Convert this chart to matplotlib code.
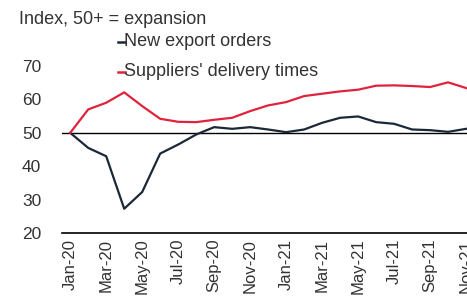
import matplotlib
matplotlib.use("Agg")
import matplotlib.pyplot as plt

plt.rcParams['font.family'] = ['Liberation Sans', 'DejaVu Sans']

months = ['Jan-20', 'Feb-20', 'Mar-20', 'Apr-20', 'May-20', 'Jun-20', 'Jul-20', 'Aug-20',
          'Sep-20', 'Oct-20', 'Nov-20', 'Dec-20', 'Jan-21', 'Feb-21', 'Mar-21', 'Apr-21',
          'May-21', 'Jun-21', 'Jul-21', 'Aug-21', 'Sep-21', 'Oct-21', 'Nov-21']

# Index values
export_orders = [50.0, 45.5, 43.0, 27.3, 32.3, 43.8, 46.5, 49.5, 51.7, 51.2, 51.7, 51.0,
                 50.2, 51.0, 53.0, 54.5, 54.9, 53.2, 52.7, 51.0, 50.8, 50.3, 51.2]
delivery_times = [50.0, 57.0, 59.0, 62.1, 58.0, 54.2, 53.3, 53.2, 53.9, 54.5, 56.5, 58.2,
                  59.2, 61.0, 61.7, 62.4, 62.9, 64.1, 64.2, 64.0, 63.7, 65.1, 63.4]

yticks = [20, 30, 40, 50, 60, 70]

txt = '#333333'

fig = plt.figure(figsize=(4.67, 3.02), dpi=100)
ax = fig.add_axes([0.133, 0.228, 0.867, 0.62])

x = list(range(len(months)))
ax.plot(x, export_orders, color='#1b2838', lw=1.6)
ax.plot(x, delivery_times, color='#e0233c', lw=1.6)
ax.axhline(50, color='black', lw=1.0, zorder=1)

ax.set_xlim(-0.45, 22.05)
ax.set_ylim(20, 76)

ax.set_yticks(yticks)
ax.set_xticks(x[::2])
ax.set_xticklabels(months[::2], rotation=90, fontsize=12, color=txt)
ax.tick_params(axis='y', length=0, labelsize=12.5, colors=txt, pad=15)
ax.tick_params(axis='x', length=0, pad=4)

for s in ['top', 'right', 'left']:
    ax.spines[s].set_visible(False)
ax.spines['bottom'].set_linewidth(1.2)

fig.text(0.040, 0.934, 'Index, 50+ = expansion', fontsize=13, color=txt, va='center')

# legend drawn as text with short line keys
fig.lines.append(plt.Line2D([0.253, 0.268], [0.861, 0.861], color='#1b2838', lw=1.8,
                            transform=fig.transFigure))
fig.text(0.266, 0.861, 'New export orders', fontsize=13, color=txt, va='center')
fig.lines.append(plt.Line2D([0.253, 0.268], [0.762, 0.762], color='#e0233c', lw=1.8,
                            transform=fig.transFigure))
fig.text(0.266, 0.762, "Suppliers' delivery times", fontsize=13, color=txt, va='center')

fig.savefig('out.png', dpi=100)
